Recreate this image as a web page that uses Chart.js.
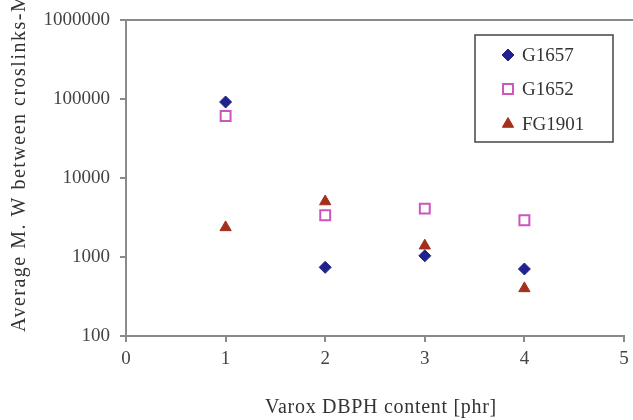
<!DOCTYPE html>
<html>
<head>
<meta charset="utf-8">
<script src="https://cdn.jsdelivr.net/npm/chart.js@4.4.1/dist/chart.umd.min.js"></script>
<style>
html,body{margin:0;padding:0;background:#fff;}
#wrap{width:633px;height:420px;}
</style>
</head>
<body>
<div id="wrap"><canvas id="c" width="633" height="420"></canvas></div>
<script>
const xValues = [1, 2, 3, 4];
const seriesNames = ['G1657', 'G1652', 'FG1901'];
const g1657 = [91600, 740, 1035, 705];
const g1652 = [61000, 3375, 4100, 2920];
const fg1901 = [2370, 5040, 1390, 400];
const yTickValues = [100, 1000, 10000, 100000, 1000000];
const xTickValues = [0, 1, 2, 3, 4, 5];
const xTitle = 'Varox DBPH content [phr]';
const yTitle = 'Average M. W between croslinks-Mc';

const FONT = "'Liberation Serif', 'Times New Roman', serif";

function pts(vals) { return xValues.map((x, i) => ({ x: x, y: vals[i] })); }

const decorPlugin = {
  id: 'decor',
  afterDraw(chart) {
    const ctx = chart.ctx;
    const ca = chart.chartArea;
    ctx.save();
    // top border of plot
    ctx.strokeStyle = '#8a8a8a';
    ctx.lineWidth = 2;
    ctx.beginPath();
    ctx.moveTo(ca.left, ca.top);
    ctx.lineTo(chart.width, ca.top);
    ctx.stroke();

    // axis titles (with slight letter spacing like the reference)
    ctx.fillStyle = '#333';
    ctx.font = '20px ' + FONT;
    ctx.textBaseline = 'middle';
    if ('letterSpacing' in ctx) ctx.letterSpacing = '0.7px';
    ctx.textAlign = 'center';
    ctx.fillText(xTitle, 381, 408);

    ctx.save();
    if ('letterSpacing' in ctx) ctx.letterSpacing = '1.5px';
    ctx.translate(20, 332);
    ctx.rotate(-Math.PI / 2);
    ctx.textAlign = 'left';
    ctx.fillText(yTitle, 0, 0);
    ctx.restore();
    if ('letterSpacing' in ctx) ctx.letterSpacing = '0px';

    // legend box
    const bx = 475, by = 35, bw = 138, bh = 107;
    ctx.strokeStyle = '#444';
    ctx.lineWidth = 1.5;
    ctx.strokeRect(bx, by, bw, bh);
    const rows = [55, 89, 124];
    chart.data.datasets.forEach((ds, i) => {
      const y = rows[i];
      ctx.save();
      ctx.fillStyle = ds.backgroundColor;
      ctx.strokeStyle = ds.borderColor;
      ctx.lineWidth = ds.borderWidth;
      Chart.helpers.drawPoint(ctx, {
        pointStyle: ds.pointStyle,
        radius: ds.pointRadius,
        borderWidth: ds.borderWidth,
        rotation: 0
      }, 508, y);
      ctx.restore();
      ctx.fillStyle = '#333';
      ctx.font = '19px ' + FONT;
      ctx.textBaseline = 'middle';
      ctx.textAlign = 'left';
      ctx.fillText(ds.label, 522, y + 1);
    });
    ctx.restore();
  }
};

new Chart(document.getElementById('c'), {
  type: 'scatter',
  data: {
    datasets: [
      { label: seriesNames[0], data: pts(g1657), pointStyle: 'rectRot', pointRadius: 6,
        backgroundColor: '#22228c', borderColor: '#22228c', borderWidth: 1 },
      { label: seriesNames[1], data: pts(g1652), pointStyle: 'rect', pointRadius: 7,
        backgroundColor: 'rgba(255,255,255,0)', borderColor: '#cc55c0', borderWidth: 2 },
      { label: seriesNames[2], data: pts(fg1901), pointStyle: 'triangle', pointRadius: 6.5,
        backgroundColor: '#a3301c', borderColor: '#a3301c', borderWidth: 1 }
    ]
  },
  options: {
    responsive: false,
    animation: false,
    devicePixelRatio: 1,
    layout: { padding: { top: 20, right: 7, left: 0, bottom: 0 } },
    plugins: {
      legend: { display: false },
      tooltip: { enabled: false }
    },
    scales: {
      x: {
        type: 'linear',
        min: 0, max: 5,
        afterBuildTicks: s => { s.ticks = xTickValues.map(v => ({ value: v })); },
        afterFit: s => { s.height = 84; s.paddingLeft = 0; s.paddingRight = 0; },
        grid: { display: true, drawOnChartArea: false, drawTicks: true, tickLength: 6, color: '#8a8a8a', lineWidth: 2 },
        border: { display: true, color: '#8a8a8a', width: 2 },
        ticks: { color: '#444', font: { family: FONT, size: 19 }, padding: 6, maxRotation: 0 },
        title: { display: false }
      },
      y: {
        type: 'logarithmic',
        min: 100, max: 1000000,
        afterBuildTicks: s => { s.ticks = yTickValues.map(v => ({ value: v })); },
        afterFit: s => { s.width = 126; s.paddingTop = 0; s.paddingBottom = 0; },
        grid: { display: true, drawOnChartArea: false, drawTicks: true, tickLength: 6, color: '#8a8a8a', lineWidth: 2 },
        border: { display: true, color: '#8a8a8a', width: 2 },
        ticks: { color: '#444', font: { family: FONT, size: 19 }, padding: 10,
          callback: v => String(v) },
        title: { display: false }
      }
    }
  },
  plugins: [decorPlugin]
});
</script>
</body>
</html>
